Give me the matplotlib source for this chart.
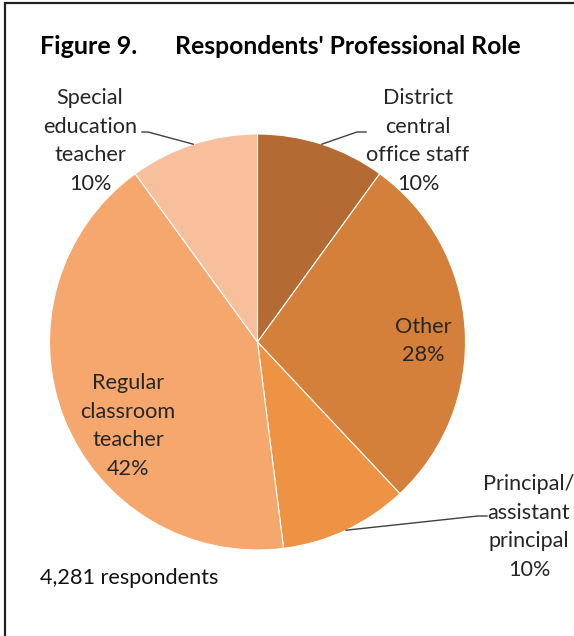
import numpy as np
import matplotlib
matplotlib.use("Agg")
import matplotlib.pyplot as plt
from matplotlib.patches import Rectangle

plt.rcParams['font.family'] = ['Lato', 'DejaVu Sans']

# Respondent roles, clockwise from 12 o'clock
roles = ["District\ncentral\noffice staff", "Other", "Principal/\nassistant\nprincipal",
         "Regular\nclassroom\nteacher", "Special\neducation\nteacher"]
shares = [10, 28, 10, 42, 10]
colors = ["#B36B33", "#D47F3A", "#EE9243", "#F6A76D", "#F8BF9D"]
respondents = "4,281"

W, H = 574, 636
fig = plt.figure(figsize=(W / 100, H / 100), dpi=100)
ax = fig.add_axes([0, 0, 1, 1])

# outer frame
ax.add_patch(Rectangle((4.5, -5), W + 10, H + 5 - 2.5, fill=False,
                       edgecolor="#222222", linewidth=1.6))

cx, cy, r = 257.5, H - 342, 208
wedges, _ = ax.pie(shares, colors=colors, startangle=90, counterclock=False,
                   center=(cx, cy), radius=r, frame=True,
                   wedgeprops=dict(edgecolor="white", linewidth=0.8))
ax.set_xlim(0, W)
ax.set_ylim(0, H)
ax.set_aspect('equal')
ax.axis('off')

ax.text(40, H - 47, "Figure 9.", fontsize=18, fontweight='bold', va='center', ha='left')
ax.text(175, H - 47, "Respondents' Professional Role", fontsize=17.8,
        fontweight='bold', va='center', ha='left')

txtcol = "#262626"
fs = 15.6

def label(i, x, y):
    s = f"{roles[i]}\n{shares[i]}%"
    ax.text(x, H - y, s, ha='center', va='center', fontsize=fs, color=txtcol,
            linespacing=1.55)

def edge_point(i):
    w = wedges[i]
    mid = np.deg2rad((w.theta1 + w.theta2) / 2)
    return cx + r * np.cos(mid), cy + r * np.sin(mid)

label(0, 418, 141)
label(1, 423, 341)
label(2, 529, 527)
label(3, 128, 426)
label(4, 90, 141)

# leader lines
lc = "#404040"
px, py = edge_point(4)
ax.plot([px, 148, 142], [py, H - 132, H - 132], color=lc, lw=1)
px, py = edge_point(0)
ax.plot([px, 357, 366], [py, H - 132, H - 132], color=lc, lw=1)
px, py = edge_point(2)
ax.plot([px, 478, 487], [py, H - 516, H - 516], color=lc, lw=1)

ax.text(40, H - 578, f"{respondents} respondents", fontsize=fs, color="#111111",
        va='center', ha='left')

fig.savefig("out.png", dpi=100)
